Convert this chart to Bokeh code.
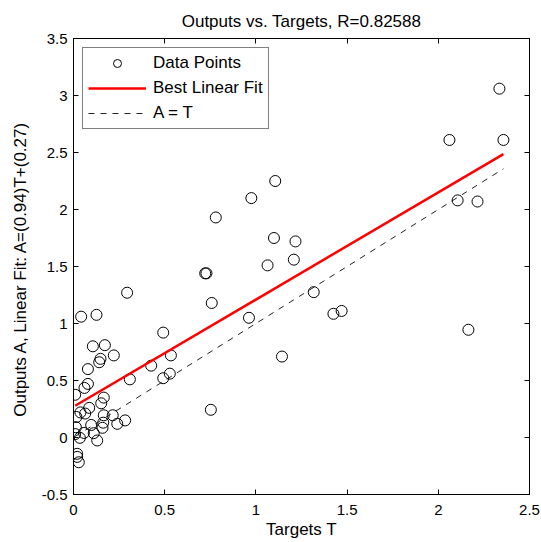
from bokeh.plotting import figure
from bokeh.models import (LinearAxis, Range1d, FixedTicker, Legend, LegendItem,
                          CustomJSTickFormatter)
from bokeh.embed import file_html
from bokeh.resources import INLINE

# ---- data ----
targets = [2.335, 2.061, 2.357, 2.106, 2.215, 2.165,
           1.106, 0.975, 0.780, 1.099, 1.217, 1.208, 1.064, 0.722, 0.729, 0.758,
           1.317, 0.962, 1.425, 1.470, 1.143, 0.753,
           0.294, 0.042, 0.126, 0.492, 0.106, 0.172, 0.221, 0.534, 0.148, 0.141,
           0.426, 0.079, 0.528, 0.492, 0.309, 0.079, 0.060, 0.009, 0.166, 0.152,
           0.086, 0.038, 0.064, 0.016, 0.166, 0.215, 0.283, 0.240, 0.163, 0.097,
           0.159, 0.013, 0.111, 0.057, 0.009, 0.035, 0.130, 0.020, 0.020, 0.029]
outputs = [3.06, 2.61, 2.61, 2.08, 2.07, 0.945,
           2.25, 2.10, 1.93, 1.75, 1.72, 1.56, 1.51, 1.44, 1.44, 1.18,
           1.275, 1.05, 1.085, 1.11, 0.71, 0.243,
           1.27, 1.06, 1.076, 0.92, 0.80, 0.81, 0.72, 0.72, 0.69, 0.66,
           0.63, 0.60, 0.56, 0.52, 0.51, 0.47, 0.435, 0.375, 0.35, 0.30,
           0.26, 0.22, 0.21, 0.18, 0.195, 0.195, 0.15, 0.12, 0.13, 0.11,
           0.085, 0.09, 0.038, 0.04, 0.03, -0.003, -0.026, -0.143, -0.17, -0.217]
fit_slope = 0.94
fit_intercept = 0.27
x_ticks = [0, 0.5, 1, 1.5, 2, 2.5]
y_ticks = [-0.5, 0, 0.5, 1, 1.5, 2, 2.5, 3, 3.5]
title_text = "Outputs vs. Targets, R=0.82588"
x_label = "Targets T"
y_label = "Outputs A,  Linear Fit: A=(0.94)T+(0.27)"

FONT = "Liberation Sans"

p = figure(width=541, height=542, x_range=Range1d(0, 2.5), y_range=Range1d(-0.5, 3.5),
           output_backend="svg", toolbar_location=None,
           min_border_left=73, min_border_right=12, min_border_top=38, min_border_bottom=48)

p.title.text = title_text
p.title.align = "center"
p.title.text_font = FONT
p.title.text_font_size = "17px"
p.title.text_font_style = "normal"
p.title.text_color = "black"
p.title.standoff = 16

p.xgrid.visible = False
p.ygrid.visible = False
p.outline_line_color = "black"
p.outline_line_width = 1
p.background_fill_color = "white"
p.border_fill_color = "white"

fmt = CustomJSTickFormatter(code="return tick.toString();")
empty = CustomJSTickFormatter(code="return '';")

for ax, ticks in ((p.xaxis[0], x_ticks), (p.yaxis[0], y_ticks)):
    ax.ticker = FixedTicker(ticks=ticks)
    ax.formatter = fmt
    ax.major_tick_in = 5
    ax.major_tick_out = 0
    ax.minor_tick_line_color = None
    ax.axis_line_color = "black"
    ax.major_tick_line_color = "black"
    ax.major_label_text_font = FONT
    ax.major_label_text_font_size = "15px"
    ax.major_label_text_color = "black"
    ax.axis_label_text_font = FONT
    ax.axis_label_text_font_size = "17px"
    ax.axis_label_text_font_style = "normal"
    ax.axis_label_text_color = "black"

p.xaxis.axis_label = x_label
p.yaxis.axis_label = y_label
p.xaxis.major_label_standoff = 10
p.xaxis.axis_label_standoff = 2
p.yaxis.major_label_standoff = 6
p.yaxis.axis_label_standoff = 9

right = LinearAxis(ticker=FixedTicker(ticks=y_ticks), formatter=empty,
                   major_tick_in=5, major_tick_out=0, minor_tick_line_color=None,
                   axis_line_color="black", major_label_standoff=0)
top = LinearAxis(ticker=FixedTicker(ticks=x_ticks), formatter=empty,
                 major_tick_in=5, major_tick_out=0, minor_tick_line_color=None,
                 axis_line_color="black", major_label_standoff=0)
p.add_layout(right, "right")
p.add_layout(top, "above")

t_min, t_max = min(targets), max(targets)
line_x = [t_min, t_max]
fit_y = [fit_slope * t + fit_intercept for t in line_x]
ident_y = [t for t in line_x]

r_pts = p.scatter(targets, outputs, marker="circle", size=11, fill_color=None,
                  line_color="black", line_width=1)
r_fit = p.line(line_x, fit_y, line_color="#ff0000", line_width=2.5)
r_id = p.line(line_x, ident_y, line_color="#222222", line_width=1, line_dash="6 6")

legend = Legend(items=[LegendItem(label="Data Points", renderers=[r_pts]),
                       LegendItem(label="Best Linear Fit", renderers=[r_fit]),
                       LegendItem(label="A = T", renderers=[r_id])],
                location="top_left", border_line_color="black", border_line_width=1,
                background_fill_color="white", background_fill_alpha=1,
                label_text_font=FONT, label_text_font_size="17px", label_text_color="black",
                glyph_width=58, glyph_height=20, label_height=20, label_standoff=7,
                padding=5, spacing=5, margin=9)
p.add_layout(legend)

open("out.html", "w").write(file_html(p, INLINE))
